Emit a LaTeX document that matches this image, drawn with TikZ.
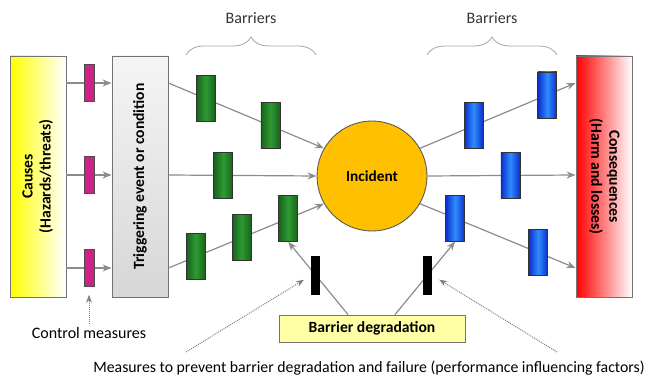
\documentclass[tikz,border=0pt]{standalone}
\usepackage{fontspec}
\setmainfont{Carlito}
\usetikzlibrary{arrows.meta,decorations.pathreplacing}
\definecolor{linegray}{HTML}{8C8C8C}
\definecolor{gdark}{HTML}{17631A}
\definecolor{glite}{HTML}{2E9A34}
\definecolor{bdark}{HTML}{0A2FC8}
\definecolor{blite}{HTML}{2F8CFF}
\definecolor{incfill}{HTML}{FFC000}
\definecolor{degfill}{HTML}{FFFFA6}
\tikzset{
  flow/.style={draw=linegray, line width=1.2pt, -{Stealth[length=9pt,width=7pt]}},
  hint/.style={draw=black!50, densely dotted, line width=1pt, -{Stealth[length=8pt,width=6pt]}},
  bigbox/.style={draw=black!55, line width=.9pt, minimum width=56pt, minimum height=241pt, inner sep=0pt, font=\fontsize{15.6}{18}\selectfont\bfseries},
  gbar/.style={draw=black!80, line width=.6pt, minimum width=19pt, minimum height=46pt, inner sep=0pt, left color=gdark, right color=gdark, middle color=glite},
  bbar/.style={draw=black!80, line width=.6pt, minimum width=19pt, minimum height=46pt, inner sep=0pt, left color=bdark, right color=bdark, middle color=blite},
  mbar/.style={draw=black!70, line width=.5pt, fill=magenta!85!black, minimum width=10pt, minimum height=37pt, inner sep=0pt},
  kbar/.style={fill=black, minimum width=9pt, minimum height=39pt, inner sep=0pt},
  brace/.style={draw=black!35, line width=.8pt, decorate, decoration={brace, amplitude=18pt}}
}
\begin{document}
\begin{tikzpicture}[x=1pt, y=-1pt, font=\fontsize{16}{19}\selectfont]
\useasboundingbox (0,0) rectangle (647,377);

\node[bigbox, left color=yellow, right color=white] (causes) at (38,176.5)
  {\rotatebox{90}{\begin{tabular}{c}Causes\\(Hazards/threats)\end{tabular}}};
\node[bigbox, top color=gray!8, bottom color=gray!32] (trig) at (140,176.5)
  {\rotatebox{90}{Triggering event or condition}};
\node[bigbox, left color=red, right color=white] (cons) at (604,176.5)
  {\rotatebox{-90}{\begin{tabular}{c}Consequences\\(Harm and losses)\end{tabular}}};
\node[circle, draw=black!65, line width=.9pt, fill=incfill, minimum size=110pt, font=\fontsize{15.3}{18}\selectfont\bfseries] (inc) at (372,176) {Incident};
\node[draw=black!55, line width=.9pt, fill=degfill, minimum width=186pt, minimum height=27pt, font=\fontsize{15.6}{18}\selectfont\bfseries] (deg) at (372,328.5) {Barrier degradation};

\foreach \y/\n in {83/1,175/2,268/3}
  \draw[flow] (causes.east |- 0,\y) -- node[mbar] (m\n) {} (trig.west |- 0,\y);

\draw[flow] (trig.east |- 0,83) -- node[gbar, pos=.24] (g1) {} node[gbar, pos=.655] (g2) {} (inc.150);
\draw[flow] (trig.east |- 0,175) -- node[gbar, pos=.37] (g3) {} (inc.west);
\draw[flow] (trig.east |- 0,268) -- node[gbar, pos=.176] (g4) {} node[gbar, pos=.47] (g5) {} node[gbar, pos=.77] (g6) {} (inc.210);

\draw[flow] (inc.30) -- node[bbar, pos=.345] (b1) {} node[bbar, pos=.818] (b2) {} (cons.west |- 0,83);
\draw[flow] (inc.east) -- node[bbar, pos=.56] (b3) {} (cons.west |- 0,175);
\draw[flow] (inc.-30) -- node[bbar, pos=.226] (b4) {} node[bbar, pos=.76] (b5) {} (cons.west |- 0,268);

\draw[flow] ([xshift=-24pt]deg.north) -- node[kbar, pos=.536] (k1) {} (g6.south);
\draw[flow] ([xshift=23pt]deg.north) -- node[kbar, pos=.536] (k2) {} (b4.south);

\draw[brace] (186,55) -- (316,55);
\draw[brace] (427,55) -- (557,55);
\node[text=black!80] (bar1) at (251,18) {Barriers};
\node[text=black!80] (bar2) at (492,18) {Barriers};

\node (ctrl) at (89,333) {Control measures};
\node[font=\fontsize{15.8}{19}\selectfont] (meas) at (369,368) {Measures to prevent barrier degradation and failure (performance influencing factors)};
\coordinate (d1) at (186,352);
\coordinate (d2) at (557,352);
\draw[hint, shorten >=8pt] (ctrl.north -| m3) -- (m3.south);
\draw[hint, shorten >=8pt] (d1) -- (k1.west);
\draw[hint, shorten >=8pt] (d2) -- (k2.east);
\end{tikzpicture}
\end{document}
